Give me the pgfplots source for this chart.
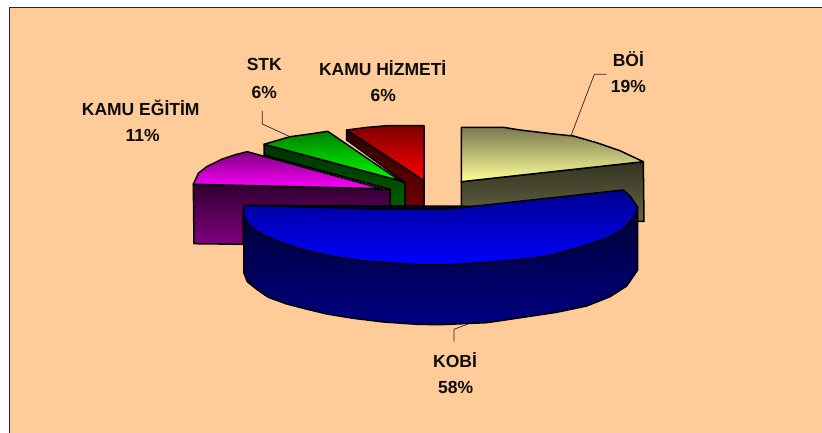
\documentclass[border=0pt]{standalone}
\usepackage{pgfplots}
\pgfplotsset{compat=1.18}
\usepackage{fontspec}
\setmainfont{Liberation Sans}

\definecolor{bgpeach}{HTML}{FFCC99}
\definecolor{oliveA}{HTML}{333322}
\definecolor{oliveB}{HTML}{666644}
\definecolor{oliveC}{HTML}{7A7A50}
\definecolor{oliveD}{HTML}{FFFF99}
\definecolor{redA}{HTML}{300000}
\definecolor{redB}{HTML}{700000}
\definecolor{redC}{HTML}{800000}
\definecolor{redD}{HTML}{FF0000}
\definecolor{grnA}{HTML}{003000}
\definecolor{grnB}{HTML}{006000}
\definecolor{grnC}{HTML}{008000}
\definecolor{grnD}{HTML}{00FF00}
\definecolor{magA}{HTML}{300030}
\definecolor{magB}{HTML}{800080}
\definecolor{magC}{HTML}{800080}
\definecolor{magD}{HTML}{FF00FF}
\definecolor{bluA}{HTML}{000033}
\definecolor{bluB}{HTML}{000080}
\definecolor{bluC}{HTML}{000090}
\definecolor{bluM}{HTML}{0000E8}
\definecolor{bluD}{HTML}{0000FF}

\pgfplotsset{
  slice/.style={draw=black, line width=1.5pt, line join=round, forget plot},
  lead/.style={draw=black!85, line width=0.7pt, forget plot},
}
\tikzset{lbl/.style={font=\fontsize{17.5}{20}\selectfont\bfseries, inner sep=0pt, text=black!95}}

\begin{document}
\begin{tikzpicture}[x=1pt,y=1pt]
\begin{axis}[
  width=822pt, height=433pt,
  scale only axis,
  xmin=0, xmax=822, ymin=0, ymax=433,
  y dir=reverse,
  hide axis,
  clip=true,
]
% page and plot area
\addplot[draw=none, fill=white, forget plot] coordinates {(0,0) (822,0) (822,433) (0,433)} -- cycle;
\addplot[draw=none, fill=bgpeach, forget plot] coordinates {(9.5,7) (822,7) (822,433) (9.5,433)} -- cycle;
\addplot[draw=black!85, line width=0.9pt, forget plot] coordinates {(9.5,433) (9.5,7) (822,7)};

% BOI
\addplot[slice, top color=oliveA, bottom color=oliveB] coordinates {
  (461.3,181.7) (643.3,161.7) (644,221.3) (461.3,221)} -- cycle;
\addplot[slice, top color=oliveC, bottom color=oliveD] coordinates {
  (461.3,127.3) (503.3,127.3) (520,130) (553.3,134) (573.3,136) (596.7,142.7) (620,150.7) (643.3,161.7) (461.3,181.7)} -- cycle;

% KAMU HIZMETI
\addplot[slice, top color=redA, bottom color=redB] coordinates {
  (346.7,130) (424,180.7) (424,209.3) (405,209.3) (405,182.7) (346.7,140)} -- cycle;
\addplot[slice, top color=redC, bottom color=redD] coordinates {
  (346.7,130) (366,127.5) (386.7,125.7) (424,125.7) (424,180.7)} -- cycle;

% STK
\addplot[slice, top color=grnA, bottom color=grnB] coordinates {
  (264,144.3) (400,180.7) (405,182.7) (405,209.3) (390,209.3) (390,189.3) (264,155)} -- cycle;
\addplot[slice, top color=grnC, bottom color=grnD] coordinates {
  (264,144.3) (290,136.7) (310,134) (327.7,131.3) (400,180.7)} -- cycle;

% KAMU EGITIM
\addplot[slice, top color=magA, bottom color=magB] coordinates {
  (193.3,184.3) (390,189.3) (390,209.3) (243,209.3) (243,244.3) (194,243.7)} -- cycle;
\addplot[slice, top color=magC, bottom color=magD] coordinates {
  (193.3,184.3) (198.3,173.3) (206.7,166.7) (221.7,159.3) (236.7,154.3) (247.3,151.7) (381.7,188.7)} -- cycle;

% KOBI
\addplot[slice, top color=bluA, bottom color=bluB] coordinates {
  (243.8,205.3) (243.8,272.7) (247.3,281.7) (256.7,289.3) (268.3,297.3) (286.7,304) (303.3,308.3)
  (326.7,314) (353.3,318.3) (383.3,322) (416.7,324.3) (440,324.7) (486.7,322.7) (523.3,317.3)
  (556.7,312.3) (586.7,306) (610,296.7) (626.7,286) (637.6,270) (637.6,207)} -- cycle;
\addplot[slice, top color=bluC, middle color=bluM, bottom color=bluD] coordinates {
  (243.8,205.3) (390,209.3) (423.3,209.3) (443.3,209.3) (470,206.7) (623.3,190) (630,196) (637.3,206.7)
  (637.3,210) (633.3,218.3) (623.3,229.3) (606.7,238.3) (586.7,245) (556.7,254) (533.3,258.3) (496.7,261.7)
  (463.3,264) (440,265) (416.7,264.7) (386.7,262.7) (363.3,261) (330,256) (303.3,250) (283.3,243.3)
  (263.3,235) (250,226.7) (244,216.7)} -- cycle;

% leader lines
\addplot[lead] coordinates {(571,135.7) (594.3,74.3) (606.7,74.3)};
\addplot[lead] coordinates {(290,136.7) (262.3,124) (262.3,111)};
\addplot[lead] coordinates {(468,324) (454,329.3) (454,341.7)};

% labels
\node[lbl] at (axis cs:140.7,108.3) {KAMU EĞİTİM};
\node[lbl] at (axis cs:142.7,135.7) {11\%};
\node[lbl] at (axis cs:264.3,64.3) {STK};
\node[lbl] at (axis cs:264.3,92.7) {6\%};
\node[lbl] at (axis cs:382.7,68.3) {KAMU HİZMETİ};
\node[lbl] at (axis cs:383.3,95) {6\%};
\node[lbl] at (axis cs:628.3,59) {BÖİ};
\node[lbl] at (axis cs:628.3,86.7) {19\%};
\node[lbl] at (axis cs:455,360) {KOBİ};
\node[lbl] at (axis cs:455.7,387) {58\%};
\end{axis}
\end{tikzpicture}
\end{document}
